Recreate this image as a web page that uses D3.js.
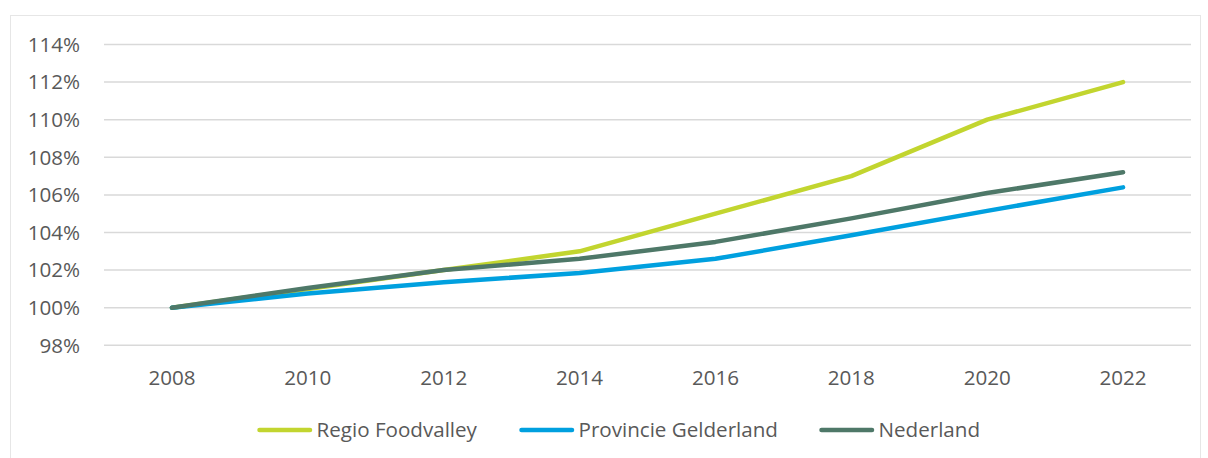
<html>
<head>
<script src="https://d3js.org/d3.v7.min.js"></script>
<style>
  body { margin: 0; background: #fff; }
  text { font-family: "Open Sans", sans-serif; fill: #595959; }
</style>
</head>
<body>
<svg id="chart" width="1208" height="458"></svg>
<script>
// data
const years = ["2008", "2010", "2012", "2014", "2016", "2018", "2020", "2022"];
const foodvalley = [100, 101.0, 102.0, 103.0, 105.0, 107.0, 110.0, 112.0];
const gelderland = [100, 100.75, 101.35, 101.85, 102.6, 103.85, 105.15, 106.4];
const nederland = [100, 101.05, 102.0, 102.6, 103.5, 104.75, 106.1, 107.2];
const yTicks = [98, 100, 102, 104, 106, 108, 110, 112, 114];
const seriesNames = ["Regio Foodvalley", "Provincie Gelderland", "Nederland"];
const seriesColors = ["#C2D52F", "#00A0DF", "#4E7868"];

const series = [foodvalley, gelderland, nederland];
const fs = 20.6;

const svg = d3.select("#chart");

// outer frame
svg.append("rect")
  .attr("x", 10.5).attr("y", 15.5)
  .attr("width", 1190).attr("height", 460)
  .attr("fill", "none").attr("stroke", "#E6E6E6").attr("stroke-width", 1);

const x = d3.scaleBand().domain(years).range([104, 1191]);
const y = d3.scaleLinear().domain([98, 114]).range([345.3, 44.5]);

// gridlines
svg.append("g")
  .selectAll("line")
  .data(yTicks)
  .join("line")
  .attr("x1", 104).attr("x2", 1191)
  .attr("y1", d => y(d)).attr("y2", d => y(d))
  .attr("stroke", "#D9D9D9").attr("stroke-width", 1.5);

// y labels
svg.append("g")
  .selectAll("text")
  .data(yTicks)
  .join("text")
  .attr("x", 80).attr("y", d => y(d))
  .attr("dy", "0.35em")
  .attr("text-anchor", "end")
  .attr("font-size", fs)
  .text(d => d + "%");

// x labels
svg.append("g")
  .selectAll("text")
  .data(years)
  .join("text")
  .attr("x", d => x(d) + x.bandwidth() / 2)
  .attr("y", 378)
  .attr("dy", "0.35em")
  .attr("text-anchor", "middle")
  .attr("font-size", fs)
  .text(d => d);

const line = d3.line()
  .x((d, i) => x(years[i]) + x.bandwidth() / 2)
  .y(d => y(d));

svg.append("g")
  .selectAll("path")
  .data(series)
  .join("path")
  .attr("d", d => line(d))
  .attr("fill", "none")
  .attr("stroke", (d, i) => seriesColors[i])
  .attr("stroke-width", 4.5)
  .attr("stroke-linecap", "round")
  .attr("stroke-linejoin", "round");

// legend
const legendX = [259.5, 521.5, 821.5];
const lg = svg.append("g")
  .selectAll("g")
  .data(seriesNames)
  .join("g")
  .attr("transform", (d, i) => "translate(" + legendX[i] + ",430)");
lg.append("line")
  .attr("x1", 0).attr("x2", 50.5)
  .attr("stroke", (d, i) => seriesColors[i])
  .attr("stroke-width", 4.5)
  .attr("stroke-linecap", "round");
lg.append("text")
  .attr("x", 57).attr("dy", "0.35em")
  .attr("font-size", fs)
  .text(d => d);
</script>
</body>
</html>
